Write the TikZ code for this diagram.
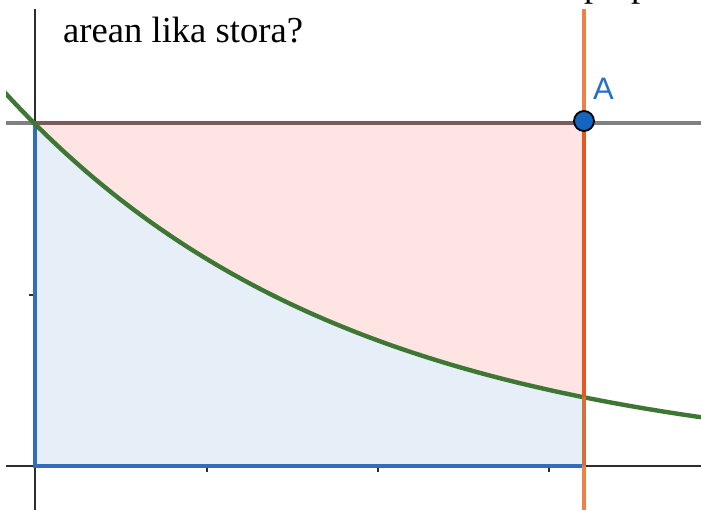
\documentclass[tikz,border=0pt]{standalone}
\usepackage{fontspec}
\setmainfont{Liberation Serif}
\newfontfamily\labelfont{Liberation Sans}
\definecolor{redfill}{RGB}{255,228,228}
\definecolor{bluefill}{RGB}{230,238,248}
\definecolor{blueedge}{RGB}{52,108,188}
\definecolor{gridgray}{RGB}{128,128,128}
\definecolor{topedge}{RGB}{122,90,90}
\definecolor{axisdark}{RGB}{45,45,45}
\definecolor{curvegreen}{RGB}{62,118,52}
\definecolor{lineorange}{RGB}{236,130,70}
\definecolor{lineredorange}{RGB}{226,88,32}
\definecolor{linebrown}{RGB}{212,112,58}
\definecolor{pointblue}{RGB}{21,101,192}
\definecolor{labelblue}{RGB}{40,110,200}
\tikzset{
  axisline/.style={draw=axisdark,line width=2pt},
  tickmark/.style={draw=axisdark,line width=2pt},
  grayline/.style={draw=gridgray,line width=4.6pt},
  bluepath/.style={draw=blueedge,line width=3.2pt},
  fcurve/.style={draw=curvegreen,line width=4.4pt},
  vline/.style={line width=4.8pt},
}
\begin{document}
\begin{tikzpicture}[x=1pt,y=-1pt]
\useasboundingbox (0,0) rectangle (701,510);
% question text (partly cut at top)
\node[anchor=base west,inner sep=0pt,font=\fontsize{36.6}{40}\selectfont] (txt) at (63,43) {arean lika stora?};
\node[anchor=base west,inner sep=0pt,font=\fontsize{36.6}{40}\selectfont] (p1) at (584,-3) {p};
\node[anchor=base west,inner sep=0pt,font=\fontsize{36.6}{40}\selectfont] (p2) at (631,-3) {p};
\begin{scope}
\clip (6,9) rectangle (701,510);
% coordinates
\coordinate (O) at (35,466);
\coordinate (T) at (35,123);
\coordinate (TA) at (584,123);
\coordinate (C) at (584,397.3);
\coordinate (B) at (584,466);
% fills
\fill[redfill] (T) -- (TA) -- (C)
  -- plot[domain=584:35,samples=80] (\x,{466-342*exp(-(\x-35)/342)}) -- cycle;
\fill[bluefill] (O) -- (T)
  -- plot[domain=35:584,samples=80] (\x,{466-342*exp(-(\x-35)/342)}) -- (B) -- cycle;
% axes
\draw[axisline] (35,9) -- (35,510);
\draw[axisline] (6,466) -- (701,466);
\foreach \xx in {207,378,549} \draw[tickmark] (\xx,466) -- (\xx,472);
\draw[tickmark] (29,295) -- (35,295);
% horizontal line y=2
\draw[grayline] (6,123) -- (701,123);
\draw[draw=topedge,line width=4.6pt] (T) -- (TA);
% blue region borders
\draw[bluepath] (T) -- (O) -- (B);
% curve
\draw[fcurve] plot[domain=4:701,samples=120] (\x,{466-342*exp(-(\x-35)/342)});
% vertical line through A
\draw[vline,draw=lineorange] (584,9) -- (584,510);
\draw[vline,draw=lineredorange] (TA) -- (C);
\draw[vline,draw=linebrown] (C) -- (B);
\end{scope}
% point A
\node[circle,fill=pointblue,draw=black,line width=1.8pt,minimum size=20pt,inner sep=0pt] (A) at (584,121) {};
\node[anchor=base west,inner sep=0pt,text=labelblue,font=\labelfont\fontsize{31}{34}\selectfont] (Alabel) at (593,100) {A};
\end{tikzpicture}
\end{document}
